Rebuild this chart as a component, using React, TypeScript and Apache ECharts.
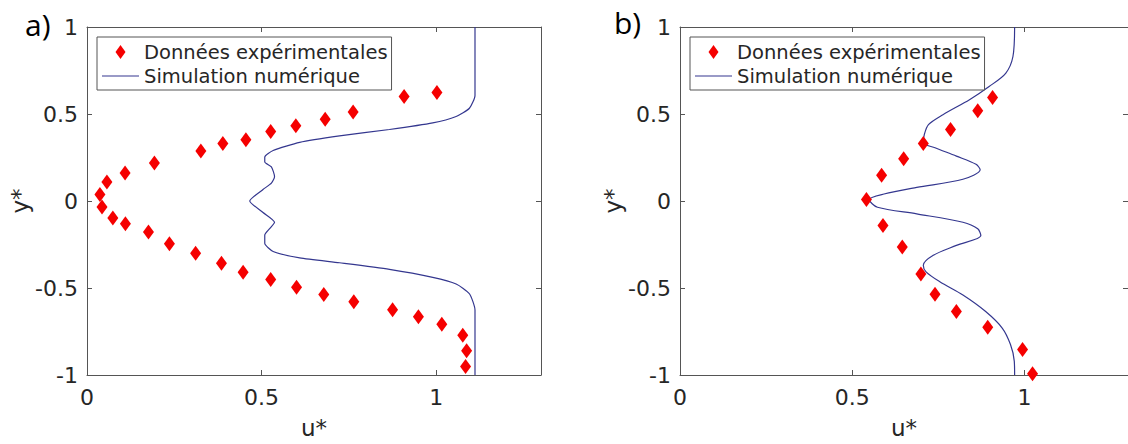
import React, { useEffect, useRef } from "react";
import * as echarts from "echarts";

// ---- Panel a) ----
const aExpU = [1.002, 0.908, 0.762, 0.682, 0.598, 0.526, 0.455, 0.389, 0.326, 0.193, 0.109, 0.057, 0.037, 0.043, 0.074, 0.11, 0.176, 0.236, 0.311, 0.385, 0.447, 0.526, 0.6, 0.678, 0.764, 0.875, 0.949, 1.016, 1.076, 1.087, 1.084];
const aExpY = [0.624, 0.601, 0.511, 0.47, 0.433, 0.399, 0.352, 0.33, 0.287, 0.219, 0.161, 0.109, 0.037, -0.034, -0.097, -0.131, -0.178, -0.245, -0.301, -0.358, -0.41, -0.451, -0.496, -0.537, -0.579, -0.625, -0.665, -0.708, -0.772, -0.86, -0.951];
const aSimU = [1.111, 1.111, 1.111, 1.095, 1.057, 0.99, 0.866, 0.723, 0.609, 0.533, 0.509, 0.509, 0.528, 0.537, 0.528, 0.504, 0.466, 0.504, 0.537, 0.523, 0.509, 0.509, 0.533, 0.609, 0.723, 0.866, 0.99, 1.057, 1.095, 1.111, 1.111];
const aSimY = [1.0, 0.683, 0.607, 0.533, 0.486, 0.449, 0.411, 0.374, 0.337, 0.29, 0.252, 0.224, 0.196, 0.14, 0.103, 0.066, 0.0, -0.066, -0.122, -0.159, -0.196, -0.243, -0.29, -0.327, -0.355, -0.393, -0.439, -0.477, -0.533, -0.627, -1.0];

// ---- Panel b) ----
const bExpU = [0.907, 0.864, 0.785, 0.706, 0.649, 0.585, 0.541, 0.589, 0.645, 0.699, 0.74, 0.802, 0.893, 0.994, 1.023];
const bExpY = [0.595, 0.519, 0.411, 0.331, 0.243, 0.148, 0.008, -0.141, -0.264, -0.42, -0.536, -0.635, -0.726, -0.854, -0.993];
const bSimU = [0.971, 0.966, 0.945, 0.897, 0.84, 0.763, 0.721, 0.709, 0.706, 0.74, 0.802, 0.859, 0.871, 0.821, 0.687, 0.592, 0.549, 0.573, 0.687, 0.821, 0.864, 0.873, 0.802, 0.735, 0.706, 0.714, 0.754, 0.821, 0.887, 0.935, 0.959, 0.97, 0.971];
const bSimY = [1.0, 0.829, 0.734, 0.658, 0.582, 0.496, 0.439, 0.382, 0.335, 0.306, 0.258, 0.211, 0.179, 0.125, 0.078, 0.04, 0.008, -0.036, -0.074, -0.122, -0.16, -0.198, -0.255, -0.312, -0.369, -0.407, -0.464, -0.54, -0.635, -0.73, -0.825, -0.92, -1.0];

const SERIES_EXP = "Données expérimentales";
const SERIES_SIM = "Simulation numérique";
const X_TITLE = "u*";
const Y_TITLE = "y*";
const PANEL_LABELS = ["a)", "b)"];

const zip = (u: number[], y: number[]) => u.map((v, i) => [v, y[i]]);

const FONT = "DejaVu Sans";
const TXT = "#262626";
const AX = "#555555";
const RED = "#f50000";
const NAVY = "#34378f";

function xAxes(grid: number) {
  const common = {
    gridIndex: grid,
    type: "value" as const,
    min: 0,
    max: 1.3,
    interval: 0.5,
    splitLine: { show: false },
    axisLine: { show: true, onZero: false, lineStyle: { color: AX, width: 1 } },
    axisTick: { show: true, inside: true, length: 5, lineStyle: { color: AX } },
  };
  return [
    {
      ...common,
      position: "bottom",
      name: X_TITLE,
      nameLocation: "middle",
      nameGap: 41,
      nameTextStyle: { fontFamily: FONT, fontSize: 23, color: TXT },
      axisLabel: { show: true, showMaxLabel: false, margin: 11, fontFamily: FONT, fontSize: 22, color: TXT },
    },
    { ...common, position: "top", axisLabel: { show: false } },
  ];
}

function yAxes(grid: number) {
  const common = {
    gridIndex: grid,
    type: "value" as const,
    min: -1,
    max: 1,
    interval: 0.5,
    splitLine: { show: false },
    axisLine: { show: true, onZero: false, lineStyle: { color: AX, width: 1 } },
    axisTick: { show: true, inside: true, length: 5, lineStyle: { color: AX } },
  };
  return [
    {
      ...common,
      position: "left",
      name: Y_TITLE,
      nameLocation: "middle",
      nameGap: 54,
      nameRotate: 90,
      nameTextStyle: { fontFamily: FONT, fontSize: 23, color: TXT },
      axisLabel: { show: true, margin: 9, fontFamily: FONT, fontSize: 22, color: TXT, formatter: (v: number) => String(v) },
    },
    { ...common, position: "right", axisLabel: { show: false } },
  ];
}

function legend(left: number) {
  return {
    orient: "vertical",
    left,
    top: 37,
    padding: [5, 4, 4, 5],
    itemGap: 4,
    itemWidth: 37,
    itemHeight: 14,
    backgroundColor: "#ffffff",
    borderColor: "#555555",
    borderWidth: 1,
    textStyle: { fontFamily: FONT, fontSize: 19.5, lineHeight: 20, color: TXT },
    data: [
      { name: SERIES_EXP, icon: "path://M5,0 L10,7 L5,14 L0,7 Z" },
      { name: SERIES_SIM, icon: "path://M0,0 L37,0 L37,1.2 L0,1.2 Z" },
    ],
    selectedMode: false,
  };
}

export default function App() {
  const ref = useRef<HTMLDivElement>(null);
  useEffect(() => {
    if (!ref.current) return;
    const chart = echarts.init(ref.current, undefined, { renderer: "svg" });
    chart.setOption({
      animation: false,
      backgroundColor: "#ffffff",
      grid: [
        { left: 87, top: 27, width: 454, height: 356 },
        { left: 680, top: 27, width: 454, height: 350 },
      ],
      xAxis: [...xAxes(0), ...xAxes(1)],
      yAxis: [...yAxes(0), ...yAxes(1)],
      legend: [legend(97), legend(690)],
      graphic: [
        { type: "text", left: 25, top: 9, style: { text: PANEL_LABELS[0], fontFamily: "Open Sans", fontSize: 30, fill: "#000" } },
        { type: "text", left: 614, top: 7, style: { text: PANEL_LABELS[1], fontFamily: "Open Sans", fontSize: 30, fill: "#000" } },
      ],
      series: [
        {
          name: SERIES_EXP, type: "scatter", xAxisIndex: 0, yAxisIndex: 0,
          symbol: "diamond", symbolSize: [11, 15], itemStyle: { color: RED, opacity: 1 },
          data: zip(aExpU, aExpY), z: 3,
        },
        {
          name: SERIES_SIM, type: "line", xAxisIndex: 0, yAxisIndex: 0,
          symbol: "none", showSymbol: false, smooth: 0.2,
          lineStyle: { color: NAVY, width: 1.2 }, itemStyle: { color: NAVY },
          data: zip(aSimU, aSimY), z: 2,
        },
        {
          name: SERIES_EXP, type: "scatter", xAxisIndex: 2, yAxisIndex: 2,
          symbol: "diamond", symbolSize: [11, 15], itemStyle: { color: RED, opacity: 1 },
          data: zip(bExpU, bExpY), z: 3,
        },
        {
          name: SERIES_SIM, type: "line", xAxisIndex: 2, yAxisIndex: 2,
          symbol: "none", showSymbol: false, smooth: 0.3,
          lineStyle: { color: NAVY, width: 1.2 }, itemStyle: { color: NAVY },
          data: zip(bSimU, bSimY), z: 2,
        },
      ],
    });
    return () => chart.dispose();
  }, []);
  return (
    <div
      ref={ref}
      style={{ position: "fixed", left: 0, top: 0, width: 1128, height: 444, background: "#fff" }}
    />
  );
}
